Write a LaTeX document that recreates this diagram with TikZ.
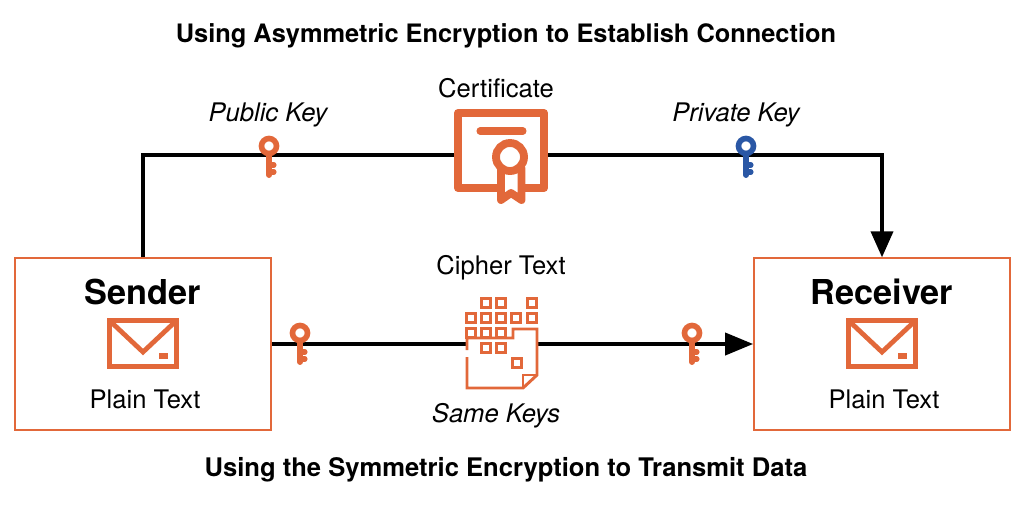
\documentclass[tikz,border=0pt]{standalone}
\usepackage{fontspec}
\setmainfont{TeX Gyre Heros}
\usetikzlibrary{arrows.meta, positioning}
\definecolor{iconorange}{HTML}{E2683A}
\definecolor{keyblue}{HTML}{2A57A5}

\tikzset{
	wire/.style={line width=2.7pt, black},
	boxnode/.style={draw=iconorange, line width=1.3pt, minimum width=182pt, minimum height=122pt, inner sep=0pt},
	title/.style={font=\fontsize{18.05}{20}\selectfont\bfseries},
	lowtitle/.style={font=\fontsize{18.2}{20}\selectfont\bfseries},
	bigname/.style={font=\fontsize{24.4}{26}\selectfont\bfseries},
	label/.style={font=\fontsize{18.2}{20}\selectfont},
}

% key with its ring centre at #2,#3
\newcommand{\keyicon}[3]{
	\draw[#1, line width=4pt] (#2, #3) circle (7.5);
	\draw[#1, line width=4.2pt, line cap=round] (#2, #3+10) -- (#2, #3+29);
	\draw[#1, line width=3.6pt, line cap=round] (#2, #3+19) -- (#2+5, #3+19);
	\draw[#1, line width=3.6pt, line cap=round] (#2, #3+26) -- (#2+5, #3+26);
}

% envelope with its top left corner at #1,#2
\newcommand{\envelopeicon}[2]{
	\draw[iconorange, line width=3.4pt] (#1+2.5, #2+2.5) rectangle (#1+69.5, #2+48.5);
	\draw[iconorange, line width=3.4pt] (#1+2.5, #2+2.5) -- (#1+36, #2+34) -- (#1+69.5, #2+2.5);
	\fill[iconorange] (#1+52, #2+35) rectangle (#1+61, #2+40.5);
}

\newcommand{\cellicon}[2]{
	\draw[iconorange, line width=2.1pt] (#1-4.5, #2-4.5) rectangle (#1+4.5, #2+4.5);
}

\begin{document}
\begin{tikzpicture}[x=0.25mm, y=-0.25mm]

\useasboundingbox (0,0) rectangle (1024,505);

\node[title] (toptitle) at (506,36) {Using Asymmetric Encryption to Establish Connection};
\node[lowtitle] (bottomtitle) at (506,470) {Using the Symmetric Encryption to Transmit Data};

\node[boxnode] (sender) at (143,344) {};
\node[boxnode] (receiver) at (882,344) {};
\node[bigname] (sendername) at (143,292) {Sender};
\node[bigname] (receivername) at (882,292) {Receiver};
\node[label] (senderplain) at (145,399) {Plain Text};
\node[label] (receiverplain) at (884,399) {Plain Text};

\node[label] (certlabel) at (496,88) {Certificate};
\node[label] (publiclabel) at (268,115) {\itshape Public Key};
\node[label] (privatelabel) at (736,115) {\itshape Private Key};
\node[label] (cipherlabel) at (501,268) {Cipher Text};
\node[label] (samelabel) at (496,416) {\itshape Same Keys};

\coordinate (certin) at (455,155);
\coordinate (certout) at (548,155);
\coordinate (docin) at (467,344);
\coordinate (docout) at (537,344);

\draw[wire] (sender.north) |- (certin);
\draw[wire, -{Triangle[length=26*0.711pt, width=22*0.711pt]}] (certout) -| (receiver.north);
\draw[wire] (sender.east) -- (docin);
\draw[wire, -{Triangle[length=28*0.711pt, width=22*0.711pt]}] (docout) -- (receiver.west);

\keyicon{iconorange}{269}{146}
\keyicon{keyblue}{746}{146}
\keyicon{iconorange}{300}{333}
\keyicon{iconorange}{692}{333}

\envelopeicon{107}{318}
\envelopeicon{846}{318}

% certificate
\draw[iconorange, line width=5.6pt, line join=round] (458,113) rectangle (544,188);
\draw[iconorange, line width=5pt, line cap=round] (480,131) -- (523,131);
\draw[iconorange, fill=white, line width=5.6pt, line join=round] (501,168) -- (501,200) -- (511,193) -- (521.5,200) -- (521.5,168) -- cycle;
\draw[iconorange, fill=white, line width=5.6pt] (510,157) circle (14);

% cipher text
\foreach \x/\y in {486/303, 501/303, 532/303, 471/318, 486/318, 501/318, 516/318, 532/318,
	471/333, 486/333, 501/333, 486/348, 501/348, 517/363} {
	\cellicon{\x}{\y}
}
\draw[iconorange, line width=2.1pt] (467,357) -- (467,388) -- (523,388) -- (537,375) -- (537,329) -- (513,329) -- (513,338) -- (467,338) -- (467,350);
\draw[iconorange, line width=2.1pt] (537,375) -- (523,375) -- (523,388);

\end{tikzpicture}
\end{document}
